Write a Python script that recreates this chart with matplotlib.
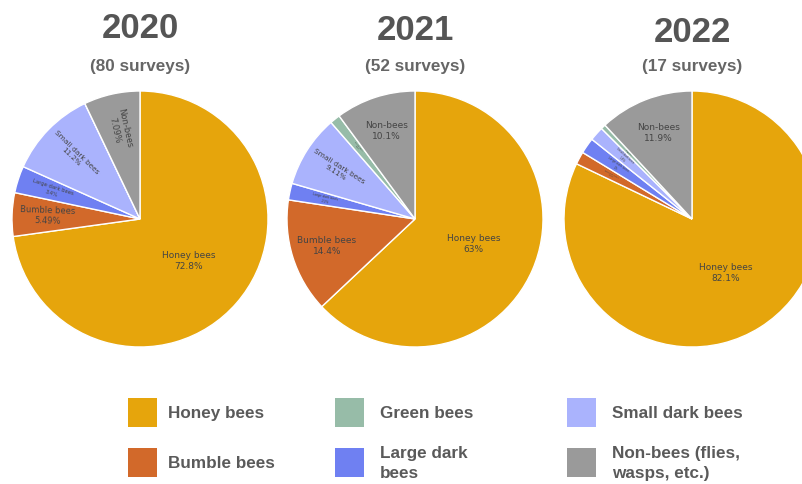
import matplotlib
matplotlib.use('Agg')
import matplotlib.pyplot as plt
from matplotlib.patches import Rectangle
import numpy as np

# ---------------- data ----------------
years = ['2020', '2021', '2022']
surveys = [80, 52, 17]
categories = ['Honey bees', 'Bumble bees', 'Large dark bees',
              'Small dark bees', 'Green bees', 'Non-bees']
pct_2020 = [72.8, 5.49, 3.4, 11.2, 0.0, 7.09]
pct_2021 = [63.0, 14.4, 2.1, 9.11, 1.3, 10.1]
pct_2022 = [82.1, 1.6, 2.0, 1.8, 0.6, 11.9]
legend_order = ['Honey bees', 'Bumble bees', 'Green bees',
                'Large dark bees', 'Small dark bees', 'Non-bees']
legend_labels = ['Honey bees', 'Bumble bees', 'Green bees',
                 'Large dark\nbees', 'Small dark bees', 'Non-bees (flies,\nwasps, etc.)']

# ---------------- style ----------------
colors = {'Honey bees': '#E6A50C', 'Bumble bees': '#D2692A',
          'Large dark bees': '#6F80F2', 'Small dark bees': '#AAB3FD',
          'Green bees': '#97BCA8', 'Non-bees': '#9A9A9A'}
W, H = 803, 484
fig = plt.figure(figsize=(W / 100, H / 100), dpi=100)
fig.patch.set_facecolor('white')

centers = [(140, 219), (415, 219), (692, 219)]
R = 128
title_base = [38, 40, 42]
sub_base = 71


def fmt(v):
    return ('%.3g' % v) + '%'


all_pcts = [pct_2020, pct_2021, pct_2022]
for (cx, cy), yr, n, pcts, tb in zip(centers, years, surveys, all_pcts, title_base):
    ax = fig.add_axes([(cx - R) / W, 1 - (cy + R) / H, 2 * R / W, 2 * R / H])
    wedges, _ = ax.pie(pcts, colors=[colors[c] for c in categories],
                       startangle=90, counterclock=False, radius=1,
                       wedgeprops=dict(edgecolor='white', linewidth=1.0))
    for w in wedges:
        w.set_clip_on(False)
    ax.set_xlim(-1, 1)
    ax.set_ylim(-1, 1)
    ax.set_aspect('equal')
    ax.axis('off')
    total = sum(pcts)
    for w, c, v in zip(wedges, categories, pcts):
        if v <= 0:
            continue
        frac = v / total
        mid = (w.theta1 + w.theta2) / 2.0
        rr = 0.5 if frac > 0.5 else 0.72
        x = rr * np.cos(np.radians(mid))
        y = rr * np.sin(np.radians(mid))
        horizontal = frac >= 0.13 or (frac >= 0.10 and abs(((mid + 180) % 360) - 180 - 90) < 30)
        if horizontal:
            rot = 0
            size = 6.5
        else:
            rot = mid - 180
            size = min(6.0, frac * 110, 80.0 / len(c))
        ax.text(x, y, '%s\n%s' % (c, fmt(v)),
                ha='center', va='center', rotation=rot, rotation_mode='anchor',
                fontsize=size, color='#444444', family='DejaVu Sans',
                linespacing=1.3)
    fig.text(cx / W, 1 - tb / H, yr, ha='center', va='baseline',
             fontsize=25, fontweight='bold', color='#555555', family='Liberation Sans')
    fig.text(cx / W, 1 - sub_base / H, '(%d surveys)' % n, ha='center', va='baseline',
             fontsize=12.3, fontweight='bold', color='#666666', family='Liberation Sans')

# ---------------- legend ----------------
sq_x = [128, 128, 335, 335, 567, 567]
sq_yc = [412.5, 462.5, 412.5, 462.5, 412.5, 462.5]
txt_x = [168, 168, 380, 380, 612, 612]
sq = 29
for cat, lab, sx, syc, tx in zip(legend_order, legend_labels, sq_x, sq_yc, txt_x):
    fig.patches.append(Rectangle((sx / W, 1 - (syc + sq / 2) / H), sq / W, sq / H,
                                 transform=fig.transFigure, facecolor=colors[cat],
                                 edgecolor='none'))
    fig.text(tx / W, 1 - (syc + 1) / H, lab, ha='left', va='center', fontsize=12.3,
             fontweight='bold', color='#5a5a5a', family='Liberation Sans',
             linespacing=1.35)

fig.savefig('out.png', dpi=100, facecolor='white')
